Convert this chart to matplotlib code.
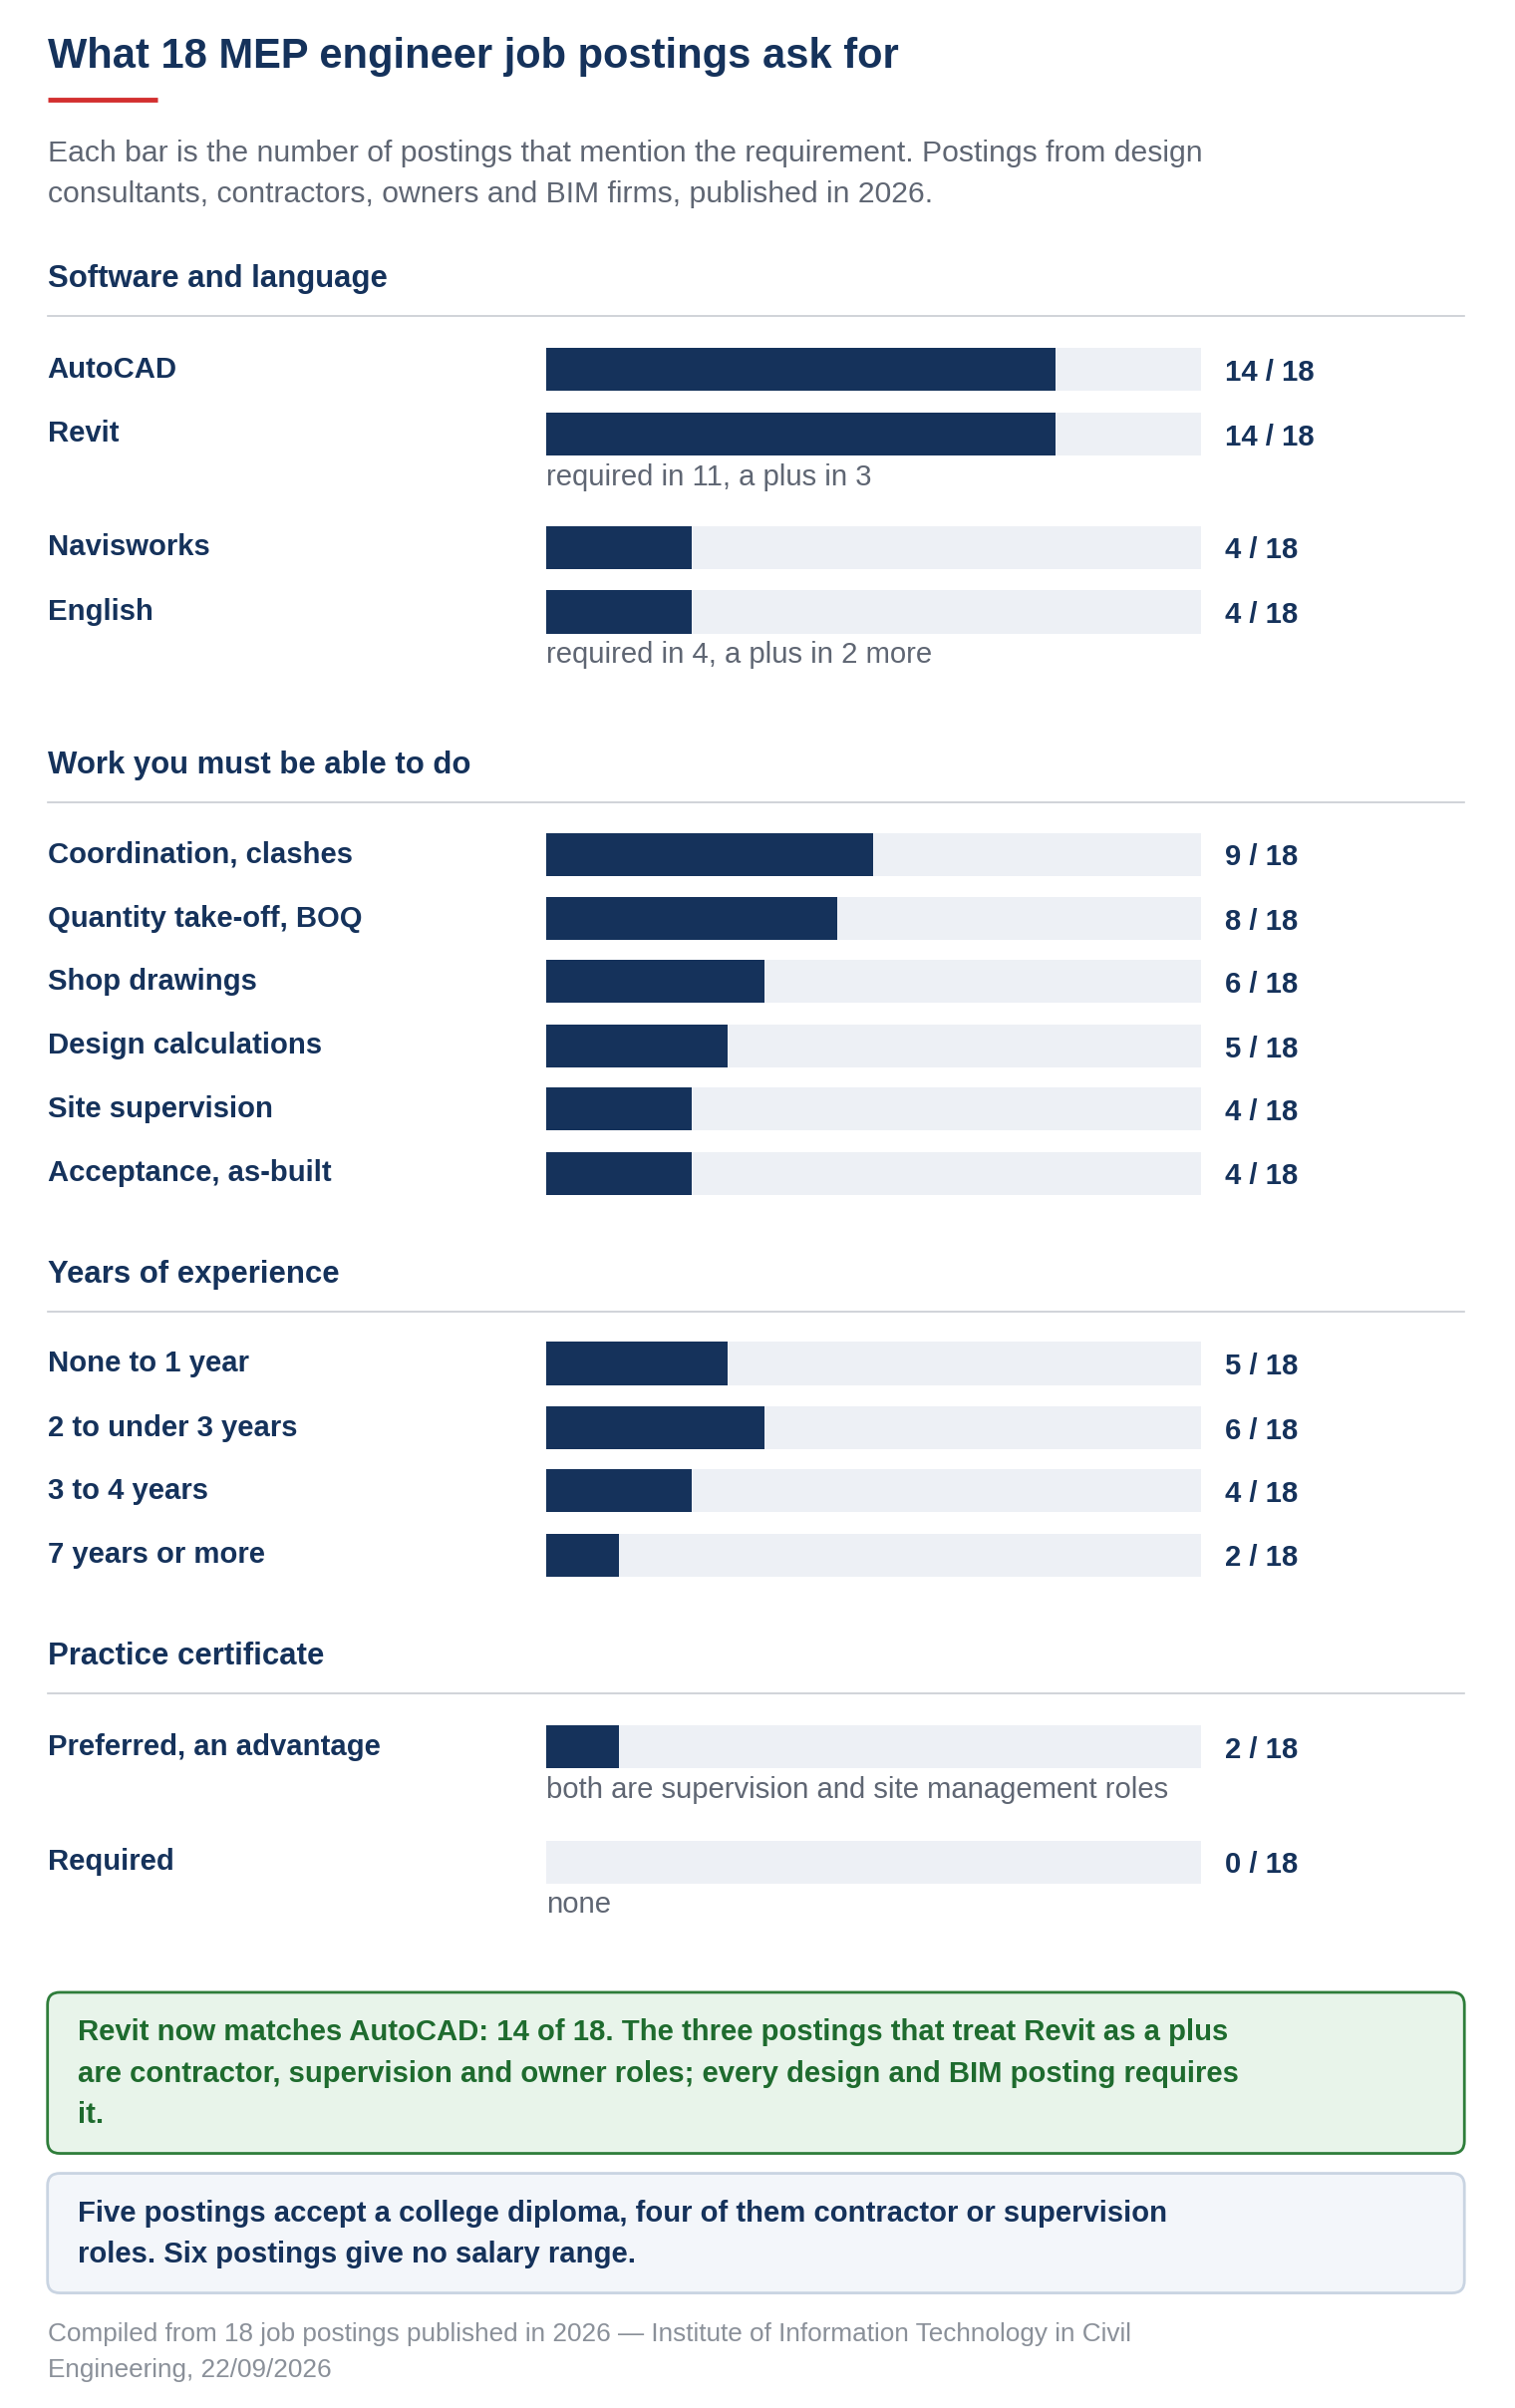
import matplotlib
matplotlib.use("Agg")
import matplotlib.pyplot as plt
from matplotlib.patches import FancyBboxPatch

plt.rcParams['font.family'] = ['Liberation Sans', 'DejaVu Sans']

TOTAL = 18
sections = ["Software and language", "Work you must be able to do", "Years of experience", "Practice certificate"]
sec1_labels = ["AutoCAD", "Revit", "Navisworks", "English"]
sec1_values = [14, 14, 4, 4]
sec2_labels = ["Coordination, clashes", "Quantity take-off, BOQ", "Shop drawings", "Design calculations", "Site supervision", "Acceptance, as-built"]
sec2_values = [9, 8, 6, 5, 4, 4]
sec3_labels = ["None to 1 year", "2 to under 3 years", "3 to 4 years", "7 years or more"]
sec3_values = [5, 6, 4, 2]
sec4_labels = ["Preferred, an advantage", "Required"]
sec4_values = [2, 0]
notes = {"Revit": "required in 11, a plus in 3",
         "English": "required in 4, a plus in 2 more",
         "Preferred, an advantage": "both are supervision and site management roles",
         "Required": "none"}

NAVY = "#15325b"
TRACK = "#edf0f5"
GRAY = "#5f6673"
W, H = 988, 1570
fig = plt.figure(figsize=(15.2, 24.16), dpi=100)
ax = fig.add_axes([0, 0, 1, 1])
ax.set_xlim(0, W); ax.set_ylim(H, 0); ax.axis('off')
bx = fig.add_axes([356 / W, 0, (783 - 356) / W, 1])
bx.set_xlim(0, TOTAL); bx.set_ylim(H, 0); bx.axis('off')

F = 1.108 * 1.19
ax.text(31, 37, "What 18 MEP engineer job postings ask for", fontsize=23 * 1.108 * 1.175, weight='bold', color=NAVY, va='center')
ax.plot([31, 103], [65, 65], color="#d32f2f", lw=3.5, solid_capstyle='butt')
ax.text(31, 100, "Each bar is the number of postings that mention the requirement. Postings from design", fontsize=17 * 1.108 * 1.15, color=GRAY, va='center')
ax.text(31, 127, "consultants, contractors, owners and BIM firms, published in 2026.", fontsize=17 * 1.108 * 1.15, color=GRAY, va='center')

layout = [
    (sections[0], 181, sec1_labels, sec1_values, [241, 283, 357, 399]),
    (sections[1], 498, sec2_labels, sec2_values, [557, 599, 640, 682, 723, 765]),
    (sections[2], 830, sec3_labels, sec3_values, [889, 931, 972, 1014]),
    (sections[3], 1079, sec4_labels, sec4_values, [1139, 1214]),
]
for title, ty, labels, vals, ys in layout:
    ax.text(31, ty + 1, title, fontsize=17 * F, weight='bold', color=NAVY, va='center')
    ax.plot([31, 955], [ty + 25, ty + 25], color="#c8ccd2", lw=1.2)
    bx.barh(ys, [TOTAL] * len(ys), height=28, color=TRACK)
    bx.barh(ys, vals, height=28, color=NAVY)
    for lab, v, y in zip(labels, vals, ys):
        ax.text(31, y, lab, fontsize=16 * F, weight='bold', color=NAVY, va='center')
        ax.text(799, y + 2, f"{v} / {TOTAL}", fontsize=16 * F, weight='bold', color=NAVY, va='center')
        if lab in notes:
            ax.text(356, y + 28, notes[lab], fontsize=16 * F, color=GRAY, va='center')

ax.add_patch(FancyBboxPatch((31, 1299), 924, 105, boxstyle="round,pad=0,rounding_size=8",
                            fc="#e8f4ea", ec="#2e7d3a", lw=2))
for y, t in zip([1325, 1352, 1379], ["Revit now matches AutoCAD: 14 of 18. The three postings that treat Revit as a plus",
                                     "are contractor, supervision and owner roles; every design and BIM posting requires",
                                     "it."]):
    ax.text(51, y, t, fontsize=16 * F, weight='bold', color="#1e6b2e", va='center')
ax.add_patch(FancyBboxPatch((31, 1417), 924, 78, boxstyle="round,pad=0,rounding_size=8",
                            fc="#f3f6fa", ec="#c9d4e2", lw=2))
for y, t in zip([1443, 1470], ["Five postings accept a college diploma, four of them contractor or supervision",
                               "roles. Six postings give no salary range."]):
    ax.text(51, y, t, fontsize=16 * F, weight='bold', color=NAVY, va='center')
ax.text(31, 1522, "Compiled from 18 job postings published in 2026 — Institute of Information Technology in Civil", fontsize=14.5 * 1.108 * 1.17, color="#8a9099", va='center')
ax.text(31, 1545, "Engineering, 22/09/2026", fontsize=14.5 * 1.108 * 1.17, color="#8a9099", va='center')

fig.savefig("out.png", dpi=100, facecolor='white')
